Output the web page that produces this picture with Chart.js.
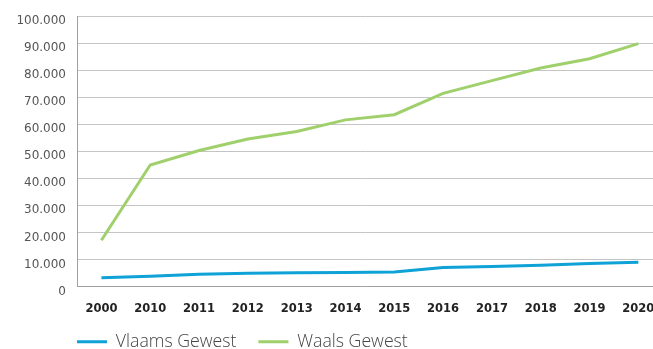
<!DOCTYPE html>
<html>
<head>
<meta charset="utf-8">
<script src="https://cdn.jsdelivr.net/npm/chart.js@4/dist/chart.umd.min.js"></script>
<style>
html,body{margin:0;padding:0;background:#fff;}
#wrap{position:relative;width:653px;height:349px;}
</style>
</head>
<body>
<div id="wrap"><canvas id="c" width="653" height="349"></canvas></div>
<script>
const years = ['2000','2010','2011','2012','2013','2014','2015','2016','2017','2018','2019','2020'];
const vlaams = [3200,3800,4500,4900,5100,5200,5400,7000,7400,7900,8500,9000];
const waals = [17100,44900,50300,54500,57300,61600,63500,71400,76100,80800,84200,89800];
const seriesNames = ['Vlaams Gewest','Waals Gewest'];
const yTicks = [0,10000,20000,30000,40000,50000,60000,70000,80000,90000,100000];

const fmt = v => v === 0 ? '0' : v.toLocaleString('de-DE');
const TICKFONT = "'DejaVu Sans', sans-serif";
const LEGFONT = "'Open Sans', sans-serif";

const legendShift = {
  id: 'legendShift',
  afterLayout(chart) {
    const lg = chart.legend;
    const w = lg.right - lg.left;
    const h = lg.bottom - lg.top;
    lg.left = 55;
    lg.right = 55 + w;
    lg.top = 311;
    lg.bottom = 311 + h;
  }
};

new Chart(document.getElementById('c'), {
  type: 'line',
  data: {
    datasets: [
      { label: seriesNames[0], data: vlaams.map((v,i)=>({x:i,y:v})), borderColor: '#0ea2d6', backgroundColor: '#0ea2d6', borderWidth: 3, pointRadius: 0, tension: 0 },
      { label: seriesNames[1], data: waals.map((v,i)=>({x:i,y:v})), borderColor: '#a0d06c', backgroundColor: '#a0d06c', borderWidth: 3, pointRadius: 0, tension: 0 }
    ]
  },
  options: {
    responsive: false,
    animation: false,
    devicePixelRatio: 1,
    layout: { padding: { top: 16, right: 0, left: 0, bottom: -33 } },
    plugins: {
      tooltip: { enabled: false },
      legend: {
        position: 'bottom',
        align: 'start',
        fullSize: false,
        labels: {
          usePointStyle: true,
          pointStyle: 'line',
          pointStyleWidth: 30,
          padding: 22,
          color: '#444',
          font: { family: LEGFONT, size: 17.7, weight: 300 }
        }
      }
    },
    scales: {
      x: {
        type: 'linear',
        min: -0.5,
        max: 11.3,
        afterBuildTicks: s => { s.ticks = years.map((y,i)=>({value:i})); },
        afterFit: s => { s.paddingLeft = 0; s.paddingRight = 0; },
        grid: { display: false, drawTicks: false },
        border: { display: true, color: '#a0a0a0', width: 1 },
        ticks: {
          callback: v => years[v],
          color: '#222',
          padding: 16,
          maxRotation: 0,
          autoSkip: false,
          font: { family: TICKFONT, size: 11.5, weight: 'bold' }
        }
      },
      y: {
        min: 0,
        max: 100000,
        afterBuildTicks: s => { s.ticks = yTicks.map(v=>({value:v})); },
        afterFit: s => { s.width = 77; s.paddingTop = 0; s.paddingBottom = 0; },
        grid: { color: '#c4c4c4', lineWidth: 1, drawTicks: false },
        border: { display: true, color: '#a0a0a0', width: 1 },
        ticks: {
          callback: v => fmt(v),
          color: '#555',
          padding: 11,
          labelOffset: 5,
          font: { family: TICKFONT, size: 12 }
        }
      }
    }
  },
  plugins: [legendShift]
});
</script>
</body>
</html>
